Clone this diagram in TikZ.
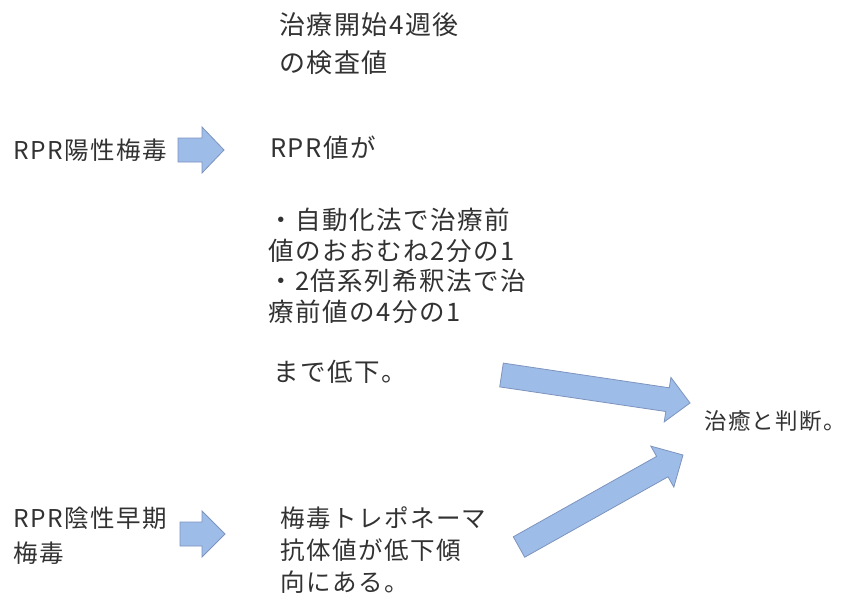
\documentclass[tikz,border=0pt]{standalone}
\usepackage{fontspec}
\setmainfont{Noto Sans CJK JP}[LetterSpace=6]
\definecolor{txt}{RGB}{50,50,50}
\definecolor{arrowfill}{RGB}{158,188,232}
\definecolor{arrowline}{RGB}{125,148,190}
\tikzset{
  lbl/.style={inner sep=0pt, anchor=base west, align=left, text=txt},
  blockarrow/.style={fill=arrowfill, draw=arrowline, line width=0.8pt, line join=miter}
}
\begin{document}
\begin{tikzpicture}[x=1pt,y=-1pt]
\useasboundingbox[fill=white] (0,0) rectangle (848,594);
% text (base anchor = baseline of the last line)
\node[lbl, font=\fontsize{26pt}{37pt}\selectfont] (top) at (279,72) {治療開始4週後\\の検査値};
\node[lbl, font=\fontsize{24.5pt}{35pt}\selectfont] (pos) at (13,159) {RPR陽性梅毒};
\node[lbl, font=\fontsize{25.5pt}{30.5pt}\selectfont] (rpr) at (270,157.5) {RPR値が};
\node[lbl, font=\fontsize{25.5pt}{30.5pt}\selectfont] (cond) at (268,321) {・自動化法で治療前\\値のおおむね2分の1\\・2倍系列希釈法で治\\療前値の4分の1};
\node[lbl, font=\fontsize{25.5pt}{30.5pt}\selectfont] (down) at (273,381.5) {まで低下。};
\node[lbl, font=\fontsize{22.5pt}{30pt}\selectfont] (cure) at (704,429.5) {治癒と判断。};
\node[lbl, font=\fontsize{24.5pt}{35pt}\selectfont] (neg) at (13,562) {RPR陰性早期\\梅毒};
\node[lbl, font=\fontsize{24.5pt}{32pt}\selectfont] (tp) at (280,591) {梅毒トレポネーマ\\抗体値が低下傾\\向にある。};
% block arrows
\draw[blockarrow] (178,138) -- (202,138) -- (202,127) -- (224,150) -- (202,173) -- (202,162) -- (178,162) -- cycle;
\draw[blockarrow] (180,522) -- (202,522) -- (202,511) -- (225,534) -- (202,557) -- (202,546) -- (180,546) -- cycle;
\draw[blockarrow] (503.3,363.1) -- (669.3,387.8) -- (670.9,377.4) -- (690,403) -- (664.2,421.9) -- (665.8,411.5) -- (499.7,386.9) -- cycle;
\draw[blockarrow] (513.3,536.8) -- (656.6,456.4) -- (650.8,446.1) -- (683,455) -- (673.8,487.1) -- (668.0,476.8) -- (524.7,557.2) -- cycle;
\end{tikzpicture}
\end{document}
